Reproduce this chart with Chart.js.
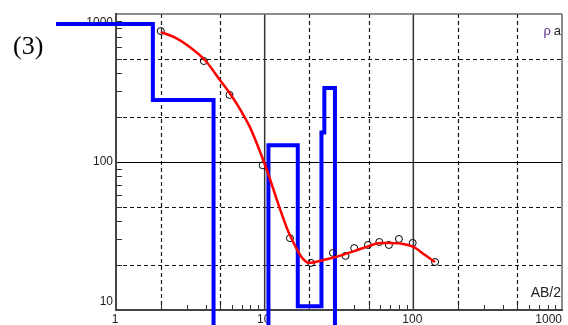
<!DOCTYPE html>
<html>
<head>
<meta charset="utf-8">
<script src="https://cdn.jsdelivr.net/npm/chart.js@4.4.0/dist/chart.umd.min.js"></script>
<style>
html, body { margin: 0; padding: 0; background: #fff; }
#wrap { width: 568px; height: 325px; }
</style>
</head>
<body>
<div id="wrap"><canvas id="grafico" width="568" height="325"></canvas></div>
<script>
// pontos medidos (AB/2, rho aparente)
const abHalf = [2, 3.9, 5.8, 9.7, 14.8, 20.5, 28.8, 35, 40, 49.5, 59, 68.5, 80, 99, 140];
const rhoObs = [767, 481, 284, 95, 30.6, 20.8, 24.3, 23.2, 26.2, 27.5, 28.8, 27.5, 30.2, 28.4, 21.1];

// curva ajustada (vermelha)
const fitAB = [2, 2.5, 3, 4, 5, 6, 7, 8, 10, 15, 20, 25, 30, 40, 50, 60, 70, 80, 100, 120, 140];
const fitRho = [755, 692, 617, 483, 358, 279, 218, 170, 97, 31, 20.8, 21.8, 22.8, 25, 27, 28.4, 28.4, 28.2, 26.7, 23.5, 21.1];

// modelo de camadas (azul)
const modelAB = [0.395, 1.77, 1.77, 4.53, 4.53, 10.6, 10.6, 16.7, 16.7, 24.1, 24.1, 25.2, 25.2, 29.7, 29.7];
const modelRho = [855, 855, 262, 262, 3, 3, 130, 130, 10.6, 10.6, 158, 158, 316, 316, 3];

// eixos
const xTicks = [1, 10, 100, 1000];
const yTicks = [10, 100, 1000];
const xDashed = [2, 5, 20, 50, 200, 500];
const xSolid = [10, 100];
const yDashed = [20, 50, 200, 500];
const ySolid = [100];
const xMinor = [2, 3, 4, 5, 6, 7, 8, 9, 20, 30, 40, 50, 60, 70, 80, 90, 200, 300, 400, 500, 600, 700, 800, 900];
const yMinor = [20, 30, 40, 50, 60, 70, 80, 90, 200, 300, 400, 500, 600, 700, 800, 900];

const pts = (xs, ys) => xs.map((v, i) => ({ x: v, y: ys[i] }));

const moldura = {
    id: 'moldura',
    beforeDatasetsDraw(chart) {
        const { ctx, chartArea: a, scales: { x, y } } = chart;
        const seg = (x1, y1, x2, y2) => { ctx.beginPath(); ctx.moveTo(x1, y1); ctx.lineTo(x2, y2); ctx.stroke(); };
        const px = v => Math.round(x.getPixelForValue(v)) + 0.5;
        const py = v => Math.round(y.getPixelForValue(v)) + 0.5;
        ctx.save();

        // grade tracejada
        ctx.setLineDash([4, 3]);
        ctx.strokeStyle = '#111';
        ctx.lineWidth = 1.2;
        xDashed.forEach(v => seg(px(v), a.top, px(v), a.bottom));
        yDashed.forEach(v => seg(a.left, py(v), a.right, py(v)));
        ctx.setLineDash([]);

        // linhas das decadas
        ctx.strokeStyle = '#333';
        ctx.lineWidth = 1.5;
        xSolid.forEach(v => seg(x.getPixelForValue(v), a.top, x.getPixelForValue(v), a.bottom));
        ctx.strokeStyle = '#000';
        ctx.lineWidth = 1;
        ySolid.forEach(v => seg(a.left, py(v), a.right, py(v)));

        // marcas menores
        ctx.strokeStyle = '#333';
        ctx.lineWidth = 1;
        xMinor.forEach(v => seg(px(v), a.bottom, px(v), a.bottom - 5));
        yMinor.forEach(v => seg(a.left, py(v), a.left + 6, py(v)));

        // moldura
        ctx.strokeStyle = '#666';
        ctx.lineWidth = 1.5;
        seg(a.left, a.top, a.right, a.top);
        seg(a.right, a.top, a.right, a.bottom);
        ctx.strokeStyle = '#444';
        ctx.lineWidth = 2;
        seg(a.left, a.top - 1, a.left, a.bottom + 1);
        seg(a.left - 1, a.bottom, a.right + 1, a.bottom);

        // rotulos
        ctx.fillStyle = '#222';
        ctx.font = '12px "Liberation Sans", Arial, sans-serif';
        ctx.textBaseline = 'top';
        xTicks.forEach((v, i) => {
            const last = i === xTicks.length - 1;
            ctx.textAlign = last ? 'right' : 'center';
            ctx.fillText(String(v), x.getPixelForValue(v) - (last ? 0 : 1), a.bottom + 4);
        });
        ctx.textAlign = 'right';
        ctx.textBaseline = 'middle';
        yTicks.forEach((v, i) => {
            let yy = y.getPixelForValue(v);
            if (i === 0) yy -= 8;
            if (i === yTicks.length - 1) yy += 9;
            ctx.fillText(String(v), a.left - 3, yy);
        });

        ctx.fillStyle = '#222';
        ctx.textAlign = 'right';
        ctx.textBaseline = 'alphabetic';
        ctx.font = '14px "Liberation Sans", Arial, sans-serif';
        ctx.fillText('AB/2', a.right - 1, a.bottom - 13);
        ctx.font = '13px "Liberation Sans", Arial, sans-serif';
        ctx.fillText('a', a.right - 1, a.top + 21);
        ctx.fillStyle = '#5a2a8a';
        ctx.fillText('ρ', a.right - 11, a.top + 21);

        ctx.fillStyle = '#000';
        ctx.textAlign = 'left';
        ctx.textBaseline = 'middle';
        ctx.font = '26px "Liberation Serif", "Times New Roman", serif';
        ctx.fillText('(3)', 13, 47);
        ctx.restore();
    }
};

const ctx = document.getElementById('grafico').getContext('2d');

const grafico = new Chart(ctx, {
    type: 'scatter',
    data: {
        datasets: [{
            label: 'curva',
            data: pts(fitAB, fitRho),
            showLine: true,
            borderColor: '#ff0000',
            borderWidth: 2.5,
            pointRadius: 0,
            cubicInterpolationMode: 'monotone',
            order: 1
        }, {
            label: 'medidas',
            data: pts(abHalf, rhoObs),
            showLine: false,
            pointRadius: 3.5,
            borderColor: '#000',
            borderWidth: 1,
            backgroundColor: 'rgba(0,0,0,0)',
            order: 2
        }, {
            label: 'modelo',
            data: pts(modelAB, modelRho),
            showLine: true,
            borderColor: '#0000ff',
            borderWidth: 4,
            pointRadius: 0,
            borderJoinStyle: 'miter',
            borderCapStyle: 'butt',
            tension: 0,
            clip: false, // a linha sai da area do grafico
            order: 3
        }]
    },
    options: {
        responsive: false,
        animation: false,
        layout: { padding: { left: 116, top: 14, right: 6, bottom: 15 } },
        plugins: {
            legend: { display: false },
            tooltip: { enabled: false }
        },
        scales: {
            x: { type: 'logarithmic', min: 1, max: 1000, display: false },
            y: { type: 'logarithmic', min: 10, max: 1000, display: false }
        }
    },
    plugins: [moldura]
});
</script>
</body>
</html>
